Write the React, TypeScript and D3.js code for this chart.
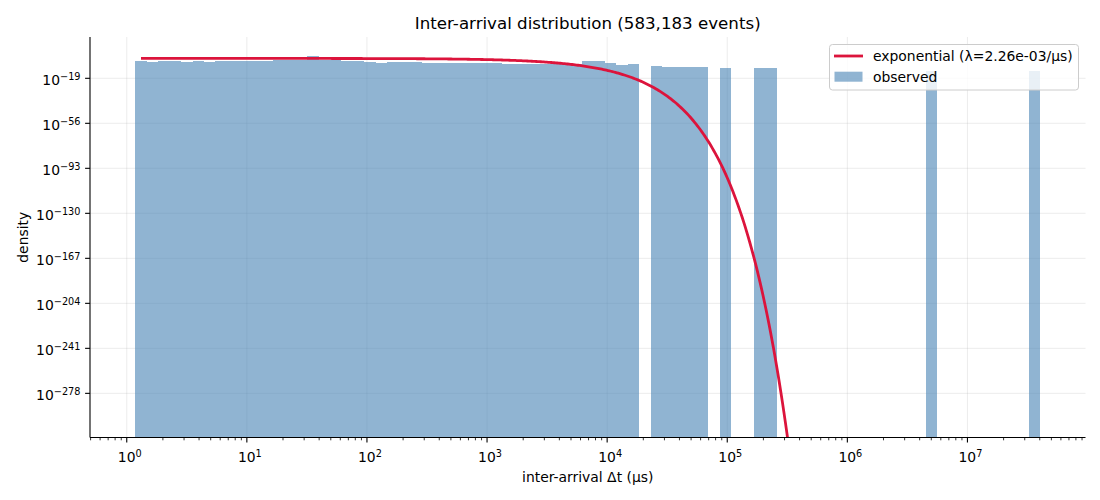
import React from 'react';
import * as d3 from 'd3';

// histogram: 79 log-spaced bins between these edges
const binMin = 1.177;
const binMax = 4.04e7;
const binCount = 79;

// observed density per bin (0 = empty bin)
const observedDensity = [
  1.7e-5, 2.5e-6, 1.7e-5, 1.7e-5, 2.5e-6, 1.7e-5, 2.5e-6,
  1.7e-5, 1.7e-5, 1.7e-5, 1.7e-5, 1.7e-5,
  1.1e-4, 1.1e-4, 1.1e-4,
  2.2e-1,
  1.1e-4, 1.1e-4,
  1.7e-5, 1.7e-5,
  2.5e-6,
  2.1e-7,
  2.5e-6, 2.5e-6, 2.5e-6,
  3.8e-7, 3.8e-7, 3.8e-7, 3.8e-7, 3.8e-7, 3.8e-7, 3.8e-7,
  5.7e-8, 5.7e-8, 5.7e-8, 5.7e-8, 5.7e-8, 5.7e-8, 5.7e-8,
  1.7e-5, 1.7e-5,
  3.8e-7,
  8.6e-9,
  5.7e-8,
  0,
  1.3e-9,
  1.9e-10, 1.9e-10, 1.9e-10, 1.9e-10,
  0,
  2.9e-11,
  0, 0,
  2.9e-11, 2.9e-11,
  0, 0, 0, 0, 0, 0, 0, 0, 0, 0, 0, 0, 0,
  1.0e-13,
  0, 0, 0, 0, 0, 0, 0, 0,
  1.0e-13,
];

// fitted exponential rate (per µs)
const lambda = 2.26e-3;
const eventCount = '583,183';

const xTickExponents = [0, 1, 2, 3, 4, 5, 6, 7];
const yTickExponents = [-278, -241, -204, -167, -130, -93, -56, -19];

const W = 1100;
const H = 500;
const left = 90;
const right = 1085.5;
const top = 37;
const bottom = 437.5;
const font = '"DejaVu Sans", sans-serif';
const fs = 13.9;

const App: React.FC = () => {
  const x = d3.scaleLog().domain([10 ** -0.306, 10 ** 7.983]).range([left, right]);
  // y in log10(density) units
  const y = d3.scaleLinear().domain([-314.3, 14.96]).range([bottom, top]);

  const lo = Math.log10(binMin);
  const step = (Math.log10(binMax) - lo) / binCount;
  const edges = d3.range(binCount + 1).map((i) => 10 ** (lo + i * step));

  // fit curve evaluated from first to last bin centre
  const curveT = d3
    .range(600)
    .map((i) => 10 ** (lo + step / 2 + (i * (binCount - 1) * step) / 599));
  const line = d3
    .line<number>()
    .x((t) => x(t))
    .y((t) => y(Math.log10(lambda) - lambda * t * Math.LOG10E));

  const minorTicks: number[] = [];
  for (let e = -1; e <= 7; e++) {
    for (let k = 2; k <= 9; k++) {
      const v = k * 10 ** e;
      if (v >= x.domain()[0] && v <= x.domain()[1]) minorTicks.push(v);
    }
  }

  return (
    <svg width={W} height={H} style={{ position: 'absolute', left: 0, top: 0 }} fontFamily={font}>
      <rect width={W} height={H} fill="white" />
      <defs>
        <clipPath id="plot">
          <rect x={left} y={top} width={right - left} height={bottom - top} />
        </clipPath>
      </defs>

      {/* grid */}
      <g stroke="#b0b0b0" strokeOpacity={0.3} strokeWidth={0.8}>
        {xTickExponents.map((e) => (
          <line key={e} x1={x(10 ** e)} x2={x(10 ** e)} y1={top} y2={bottom} />
        ))}
        {yTickExponents.map((e) => (
          <line key={e} x1={left} x2={right} y1={y(e)} y2={y(e)} />
        ))}
      </g>

      {/* histogram, snapped to whole pixels so neighbouring bars don't leave seams */}
      <g fill="steelblue" fillOpacity={0.6} clipPath="url(#plot)" shapeRendering="crispEdges">
        {observedDensity.map((d, i) => {
          if (d <= 0) return null;
          const x0 = Math.round(x(edges[i]));
          const x1 = Math.round(x(edges[i + 1]));
          const yt = Math.round(y(Math.log10(d)));
          return <rect key={i} x={x0} width={x1 - x0} y={yt} height={Math.round(bottom) - yt} />;
        })}
      </g>

      {/* exponential fit */}
      <path
        d={line(curveT) as string}
        fill="none"
        stroke="crimson"
        strokeWidth={2.8}
        clipPath="url(#plot)"
      />

      {/* spines */}
      <g stroke="black" strokeWidth={1.1}>
        <line x1={left} x2={left} y1={top} y2={bottom} />
        <line x1={left} x2={right} y1={bottom} y2={bottom} />
      </g>

      {/* x ticks */}
      <g stroke="black">
        {xTickExponents.map((e) => (
          <line key={e} x1={x(10 ** e)} x2={x(10 ** e)} y1={bottom} y2={bottom + 4.9} strokeWidth={1.1} />
        ))}
        {minorTicks.map((v) => (
          <line key={v} x1={x(v)} x2={x(v)} y1={bottom} y2={bottom + 2.8} strokeWidth={0.8} />
        ))}
      </g>
      <g fontSize={fs} fill="#000" textAnchor="middle">
        {xTickExponents.map((e) => (
          <text key={e} x={x(10 ** e) + 3} y={462}>
            10
            <tspan fontSize={fs * 0.7} dy={-5.5}>
              {e}
            </tspan>
          </text>
        ))}
      </g>

      {/* y ticks */}
      <g stroke="black" strokeWidth={1.1}>
        {yTickExponents.map((e) => (
          <line key={e} x1={left - 4.9} x2={left} y1={y(e)} y2={y(e)} />
        ))}
      </g>
      <g fontSize={fs} fill="#000" textAnchor="end">
        {yTickExponents.map((e) => (
          <text key={e} x={80.5} y={y(e) + 6.7}>
            10
            <tspan fontSize={fs * 0.7} dy={-5.5}>
              {'\u2212' + Math.abs(e)}
            </tspan>
          </text>
        ))}
      </g>

      {/* labels */}
      <text x={(left + right) / 2} y={28.5} fontSize={16.67} textAnchor="middle">
        Inter-arrival distribution ({eventCount} events)
      </text>
      <text x={(left + right) / 2} y={481.5} fontSize={fs} textAnchor="middle">
        inter-arrival Δt (µs)
      </text>
      <text
        transform={`translate(28, ${(top + bottom) / 2}) rotate(-90)`}
        fontSize={fs}
        textAnchor="middle"
      >
        density
      </text>

      {/* legend */}
      <g>
        <rect
          x={829.5}
          y={44.5}
          width={249}
          height={45.5}
          rx={3}
          fill="white"
          fillOpacity={0.8}
          stroke="#cccccc"
          strokeWidth={1}
        />
        <line x1={834} x2={863} y1={56} y2={56} stroke="crimson" strokeWidth={2.8} />
        <text x={873} y={61} fontSize={fs}>
          exponential (λ={lambda.toExponential(2).replace('e-3', 'e-03')}/µs)
        </text>
        <rect x={834.5} y={71.7} width={28} height={10} fill="steelblue" fillOpacity={0.6} />
        <text x={873} y={81.7} fontSize={fs}>
          observed
        </text>
      </g>
    </svg>
  );
};

export default App;
